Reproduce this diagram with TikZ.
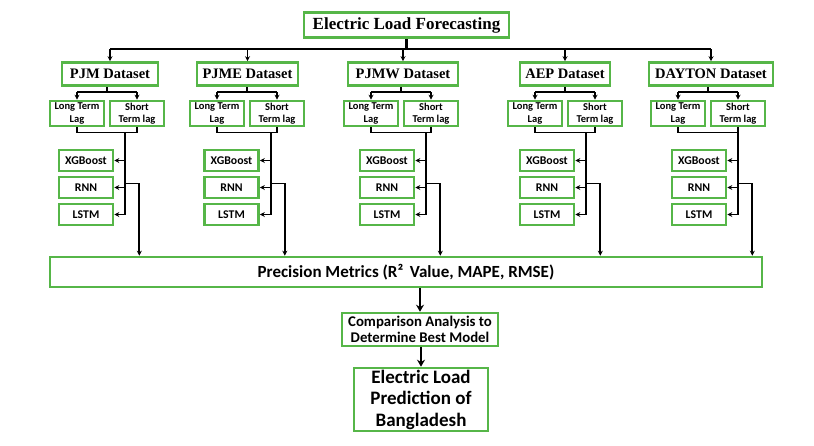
\documentclass[tikz,border=0pt]{standalone}
\usepackage{fontspec}
\setmainfont{Carlito}
\newfontfamily\serifbold{Liberation Serif}
\usetikzlibrary{arrows.meta,calc}
\definecolor{boxgreen}{RGB}{86,182,72}
\tikzset{
  gbox/.style={draw=boxgreen, line width=2.6pt, fill=white, inner sep=0pt, align=center, font=\bfseries},
  titlebox/.style={gbox, font=\serifbold\bfseries\fontsize{17}{20}\selectfont, minimum width=205pt, minimum height=25pt},
  dsbox/.style={gbox, font=\serifbold\bfseries\fontsize{14.5}{17}\selectfont, minimum height=23pt},
  lagbox/.style={gbox, font=\bfseries\fontsize{10.5}{12.5}\selectfont, minimum width=54pt, minimum height=25pt},
  modbox/.style={gbox, font=\bfseries\fontsize{11.8}{14}\selectfont, minimum width=54pt, minimum height=21pt},
  plain/.style={draw=black, line width=1.7pt},
  conn/.style={plain, -{Stealth[length=5pt,width=5pt]}},
  bigconn/.style={draw=black, line width=2.6pt, -{Stealth[length=7pt,width=8pt]}}
}
\begin{document}
\begin{tikzpicture}[x=1pt,y=-1pt]
\fill[white] (0,0) rectangle (814,445);
\useasboundingbox (0,0) rectangle (814,445);

\coordinate (bus) at (406,49);
\coordinate (fy) at (0,92);
\coordinate (by) at (0,132.5);
\coordinate (bry) at (0,183.5);

\node[titlebox] (title) at (406.5,25) {Electric Load Forecasting};

\node[gbox, minimum width=712pt, minimum height=30pt, font=\bfseries\fontsize{17}{20}\selectfont] (prec) at (406,272) {Precision Metrics (R²\, Value, MAPE, RMSE)};
\node[gbox, minimum width=156pt, minimum height=33pt, font=\bfseries\fontsize{14.8}{16}\selectfont] (comp) at (420,329.5) {Comparison Analysis to\\Determine Best Model};
\node[gbox, minimum width=134pt, minimum height=63pt, font=\bfseries\fontsize{19}{21.5}\selectfont] (final) at (421,399.5) {Electric Load\\Prediction of\\Bangladesh};

\draw[plain, line width=2.6pt] (title.south) -- (title.south |- bus);

\foreach \i/\lab/\dx/\dw/\lx/\mx in {1/PJM/110/96/49/86, 2/PJME/247.5/101/189/231.5, 3/PJMW/403/110/343/387, 4/AEP/565/90/507/547, 5/DAYTON/711/124/650/699} {
  \node[dsbox, minimum width=\dw pt] (ds\i) at (\dx,74) {\lab{} Dataset};
  \node[lagbox] (lt\i) at (\lx+28,113.5) {Long Term\\Lag};
  \node[lagbox] (st\i) at (\lx+88,113.5) {Short\\Term lag};
  \node[modbox] (xg\i) at (\mx,160.5) {XGBoost};
  \node[modbox] (rnn\i) at (\mx,187.5) {RNN};
  \node[modbox] (lstm\i) at (\mx,214.5) {LSTM};
  % from bus to dataset
  \draw[conn] (ds\i.north |- bus) -- (ds\i.north);
  % fork to lag boxes
  \coordinate (f\i) at ($(lt\i.east)!0.5!(st\i.west)$);
  \draw[plain] (f\i |- ds\i.south) -- (f\i |- fy);
  \draw[plain] (lt\i.north |- fy) -- (st\i.north |- fy);
  \draw[conn] (lt\i.north |- fy) -- (lt\i.north);
  \draw[conn] (st\i.north |- fy) -- (st\i.north);
  % bracket below lag boxes
  \draw[plain] (lt\i.south) -- (lt\i.south |- by) -- (st\i.south |- by) -- (st\i.south);
  % vertical to models
  \coordinate (v\i) at ($(xg\i.east)+(11,0)$);
  \draw[plain] (v\i |- by) -- (v\i |- lstm\i);
  \draw[conn] (v\i |- xg\i) -- (xg\i.east);
  \draw[conn] (v\i |- rnn\i) -- (rnn\i.east);
  \draw[conn] (v\i |- lstm\i) -- (lstm\i.east);
  % branch to precision metrics
  \draw[conn] (v\i |- bry) -- ($(v\i |- bry)+(14,0)$) -- ($(v\i |- prec.north)+(14,0)$);
}
\draw[plain] (ds1.north |- bus) -- (ds5.north |- bus);

\draw[bigconn] (comp.north |- prec.south) -- (comp.north);
\draw[bigconn] (comp.south -| final.north) -- (final.north);
\end{tikzpicture}
\end{document}
